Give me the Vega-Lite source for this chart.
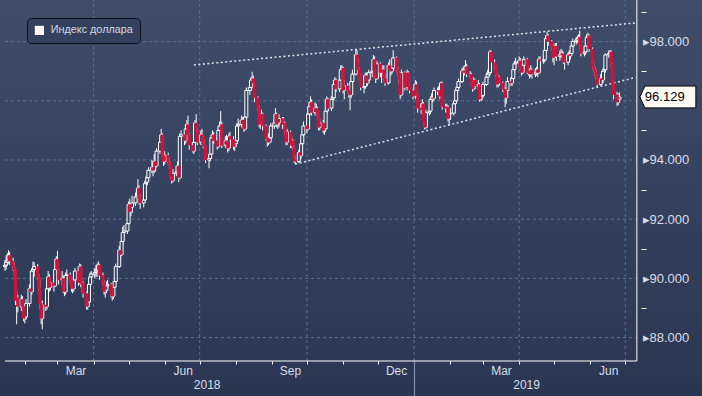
{
"$schema":"https://vega.github.io/schema/vega-lite/v6.json",
"width":702,"height":396,
"padding":0,
"autosize":{"type":"none"},
"background":"#2f3c58",
"config":{"view":{"stroke":null,"fill":{"gradient":"linear","x1":0,"y1":0,"x2":0,"y2":1,"stops":[{"offset":0,"color":"#3f4d6b"},{"offset":1,"color":"#2a3652"}]}},"axis":{"labelFont":"Liberation Sans","titleFont":"Liberation Sans"}},
"datasets":{
"last":[{"v":96.129}],
"gy":[{"v":88},{"v":90},{"v":92},{"v":94},{"v":96},{"v":98}],
"gx":[{"d":"2018-04-01"},{"d":"2018-07-01"},{"d":"2018-10-01"},{"d":"2019-01-01"},{"d":"2019-04-01"},{"d":"2019-07-01"}],
"tl":[{"g":"u","d":"2018-06-26","v":97.21},{"g":"u","d":"2019-07-10","v":98.63},{"g":"l","d":"2018-09-21","v":93.86},{"g":"l","d":"2019-07-10","v":96.79}],
"px":[
{"d":"2018-01-15","o":90.40,"h":90.62,"l":90.25,"c":90.45},
{"d":"2018-01-16","o":90.45,"h":90.78,"l":90.30,"c":90.55},
{"d":"2018-01-17","o":90.55,"h":90.85,"l":90.42,"c":90.62},
{"d":"2018-01-18","o":90.62,"h":90.95,"l":90.50,"c":90.78},
{"d":"2018-01-19","o":90.78,"h":90.90,"l":90.45,"c":90.58},
{"d":"2018-01-22","o":90.58,"h":90.70,"l":90.25,"c":90.40},
{"d":"2018-01-23","o":90.40,"h":90.55,"l":90.10,"c":90.28},
{"d":"2018-01-24","o":90.28,"h":90.35,"l":89.10,"c":89.25},
{"d":"2018-01-25","o":89.25,"h":89.60,"l":88.45,"c":89.35},
{"d":"2018-01-26","o":89.35,"h":89.45,"l":88.85,"c":89.05},
{"d":"2018-01-29","o":89.05,"h":89.45,"l":88.90,"c":89.30},
{"d":"2018-01-30","o":89.30,"h":89.40,"l":88.85,"c":89.05},
{"d":"2018-01-31","o":89.05,"h":89.20,"l":88.55,"c":88.65},
{"d":"2018-02-01","o":88.65,"h":88.95,"l":88.48,"c":88.70},
{"d":"2018-02-02","o":88.70,"h":89.30,"l":88.60,"c":89.15},
{"d":"2018-02-05","o":89.15,"h":89.80,"l":89.05,"c":89.65},
{"d":"2018-02-06","o":89.65,"h":89.90,"l":89.30,"c":89.55},
{"d":"2018-02-07","o":89.55,"h":90.35,"l":89.45,"c":90.25},
{"d":"2018-02-08","o":90.25,"h":90.57,"l":90.05,"c":90.30},
{"d":"2018-02-09","o":90.30,"h":90.55,"l":90.05,"c":90.40},
{"d":"2018-02-12","o":90.40,"h":90.48,"l":89.95,"c":90.05},
{"d":"2018-02-13","o":90.05,"h":90.15,"l":89.55,"c":89.70},
{"d":"2018-02-14","o":89.70,"h":89.95,"l":88.95,"c":89.15},
{"d":"2018-02-15","o":89.15,"h":89.25,"l":88.45,"c":88.65},
{"d":"2018-02-16","o":88.65,"h":89.25,"l":88.28,"c":89.10},
{"d":"2018-02-19","o":89.10,"h":89.35,"l":88.90,"c":89.05},
{"d":"2018-02-20","o":89.05,"h":89.80,"l":88.95,"c":89.65},
{"d":"2018-02-21","o":89.65,"h":90.25,"l":89.50,"c":90.05},
{"d":"2018-02-22","o":90.05,"h":90.15,"l":89.55,"c":89.70},
{"d":"2018-02-23","o":89.70,"h":90.05,"l":89.60,"c":89.85},
{"d":"2018-02-26","o":89.85,"h":89.95,"l":89.55,"c":89.75},
{"d":"2018-02-27","o":89.75,"h":90.45,"l":89.70,"c":90.30},
{"d":"2018-02-28","o":90.30,"h":90.75,"l":90.20,"c":90.65},
{"d":"2018-03-01","o":90.65,"h":90.93,"l":90.15,"c":90.30},
{"d":"2018-03-02","o":90.30,"h":90.35,"l":89.80,"c":89.95},
{"d":"2018-03-05","o":89.95,"h":90.25,"l":89.75,"c":90.00},
{"d":"2018-03-06","o":90.00,"h":90.10,"l":89.50,"c":89.60},
{"d":"2018-03-07","o":89.60,"h":89.75,"l":89.40,"c":89.55},
{"d":"2018-03-08","o":89.55,"h":90.20,"l":89.45,"c":90.10},
{"d":"2018-03-09","o":90.10,"h":90.30,"l":89.95,"c":90.12},
{"d":"2018-03-12","o":90.12,"h":90.20,"l":89.85,"c":89.95},
{"d":"2018-03-13","o":89.95,"h":90.05,"l":89.55,"c":89.70},
{"d":"2018-03-14","o":89.70,"h":89.85,"l":89.50,"c":89.65},
{"d":"2018-03-15","o":89.65,"h":90.10,"l":89.55,"c":89.95},
{"d":"2018-03-16","o":89.95,"h":90.35,"l":89.85,"c":90.25},
{"d":"2018-03-19","o":90.25,"h":90.30,"l":89.75,"c":89.85},
{"d":"2018-03-20","o":89.85,"h":90.50,"l":89.80,"c":90.40},
{"d":"2018-03-21","o":90.40,"h":90.48,"l":89.70,"c":89.85},
{"d":"2018-03-22","o":89.85,"h":90.00,"l":89.55,"c":89.80},
{"d":"2018-03-23","o":89.80,"h":89.90,"l":89.35,"c":89.50},
{"d":"2018-03-26","o":89.50,"h":89.55,"l":88.95,"c":89.05},
{"d":"2018-03-27","o":89.05,"h":89.40,"l":88.94,"c":89.20},
{"d":"2018-03-28","o":89.20,"h":89.95,"l":89.10,"c":89.80},
{"d":"2018-03-29","o":89.80,"h":90.20,"l":89.70,"c":90.05},
{"d":"2018-03-30","o":90.05,"h":90.25,"l":89.95,"c":90.15},
{"d":"2018-04-02","o":90.15,"h":90.35,"l":90.00,"c":90.20},
{"d":"2018-04-03","o":90.20,"h":90.45,"l":90.05,"c":90.25},
{"d":"2018-04-04","o":90.25,"h":90.50,"l":90.05,"c":90.28},
{"d":"2018-04-05","o":90.28,"h":90.58,"l":90.15,"c":90.45},
{"d":"2018-04-06","o":90.45,"h":90.50,"l":89.95,"c":90.10},
{"d":"2018-04-09","o":90.10,"h":90.20,"l":89.75,"c":89.85},
{"d":"2018-04-10","o":89.85,"h":89.95,"l":89.45,"c":89.55},
{"d":"2018-04-11","o":89.55,"h":89.75,"l":89.35,"c":89.60},
{"d":"2018-04-12","o":89.60,"h":89.90,"l":89.50,"c":89.75},
{"d":"2018-04-13","o":89.75,"h":89.95,"l":89.60,"c":89.80},
{"d":"2018-04-16","o":89.80,"h":89.85,"l":89.35,"c":89.45},
{"d":"2018-04-17","o":89.45,"h":89.60,"l":89.25,"c":89.40},
{"d":"2018-04-18","o":89.40,"h":89.85,"l":89.30,"c":89.70},
{"d":"2018-04-19","o":89.70,"h":90.05,"l":89.60,"c":89.90},
{"d":"2018-04-20","o":89.90,"h":90.50,"l":89.80,"c":90.40},
{"d":"2018-04-23","o":90.40,"h":91.10,"l":90.35,"c":90.95},
{"d":"2018-04-24","o":90.95,"h":91.05,"l":90.60,"c":90.80},
{"d":"2018-04-25","o":90.80,"h":91.40,"l":90.75,"c":91.25},
{"d":"2018-04-26","o":91.25,"h":91.75,"l":91.10,"c":91.55},
{"d":"2018-04-27","o":91.55,"h":91.80,"l":91.35,"c":91.60},
{"d":"2018-04-30","o":91.60,"h":92.05,"l":91.50,"c":91.85},
{"d":"2018-05-01","o":91.85,"h":92.60,"l":91.80,"c":92.50},
{"d":"2018-05-02","o":92.50,"h":92.70,"l":92.10,"c":92.25},
{"d":"2018-05-03","o":92.25,"h":92.55,"l":92.10,"c":92.40},
{"d":"2018-05-04","o":92.40,"h":92.80,"l":92.20,"c":92.55},
{"d":"2018-05-07","o":92.55,"h":92.90,"l":92.45,"c":92.75},
{"d":"2018-05-08","o":92.75,"h":93.05,"l":92.60,"c":92.80},
{"d":"2018-05-09","o":92.80,"h":93.35,"l":92.70,"c":93.05},
{"d":"2018-05-10","o":93.05,"h":93.15,"l":92.50,"c":92.70},
{"d":"2018-05-11","o":92.70,"h":92.85,"l":92.35,"c":92.55},
{"d":"2018-05-14","o":92.55,"h":92.85,"l":92.40,"c":92.65},
{"d":"2018-05-15","o":92.65,"h":93.30,"l":92.60,"c":93.20},
{"d":"2018-05-16","o":93.20,"h":93.45,"l":93.05,"c":93.25},
{"d":"2018-05-17","o":93.25,"h":93.55,"l":93.15,"c":93.40},
{"d":"2018-05-18","o":93.40,"h":93.75,"l":93.30,"c":93.65},
{"d":"2018-05-21","o":93.65,"h":94.00,"l":93.55,"c":93.75},
{"d":"2018-05-22","o":93.75,"h":93.90,"l":93.45,"c":93.65},
{"d":"2018-05-23","o":93.65,"h":94.20,"l":93.55,"c":93.95},
{"d":"2018-05-24","o":93.95,"h":94.05,"l":93.60,"c":93.80},
{"d":"2018-05-25","o":93.80,"h":94.40,"l":93.75,"c":94.30},
{"d":"2018-05-28","o":94.30,"h":94.75,"l":94.20,"c":94.60},
{"d":"2018-05-29","o":94.60,"h":95.05,"l":94.50,"c":94.85},
{"d":"2018-05-30","o":94.85,"h":94.90,"l":94.05,"c":94.15},
{"d":"2018-05-31","o":94.15,"h":94.25,"l":93.80,"c":93.95},
{"d":"2018-06-01","o":93.95,"h":94.30,"l":93.85,"c":94.15},
{"d":"2018-06-04","o":94.15,"h":94.25,"l":93.85,"c":93.95},
{"d":"2018-06-05","o":93.95,"h":94.10,"l":93.70,"c":93.85},
{"d":"2018-06-06","o":93.85,"h":93.95,"l":93.35,"c":93.45},
{"d":"2018-06-07","o":93.45,"h":93.55,"l":93.20,"c":93.30},
{"d":"2018-06-08","o":93.30,"h":93.70,"l":93.25,"c":93.55},
{"d":"2018-06-11","o":93.55,"h":93.80,"l":93.45,"c":93.60},
{"d":"2018-06-12","o":93.60,"h":93.95,"l":93.50,"c":93.80},
{"d":"2018-06-13","o":93.80,"h":93.90,"l":93.25,"c":93.40},
{"d":"2018-06-14","o":93.40,"h":94.90,"l":93.35,"c":94.80},
{"d":"2018-06-15","o":94.80,"h":95.00,"l":94.55,"c":94.85},
{"d":"2018-06-18","o":94.85,"h":94.95,"l":94.50,"c":94.65},
{"d":"2018-06-19","o":94.65,"h":95.20,"l":94.55,"c":95.05},
{"d":"2018-06-20","o":95.05,"h":95.35,"l":94.90,"c":95.20},
{"d":"2018-06-21","o":95.20,"h":95.50,"l":94.75,"c":94.85},
{"d":"2018-06-22","o":94.85,"h":94.95,"l":94.35,"c":94.50},
{"d":"2018-06-25","o":94.50,"h":94.60,"l":94.25,"c":94.30},
{"d":"2018-06-26","o":94.30,"h":94.75,"l":94.20,"c":94.60},
{"d":"2018-06-27","o":94.60,"h":95.35,"l":94.55,"c":95.25},
{"d":"2018-06-28","o":95.25,"h":95.55,"l":94.90,"c":95.00},
{"d":"2018-06-29","o":95.00,"h":95.10,"l":94.50,"c":94.60},
{"d":"2018-07-02","o":94.60,"h":95.00,"l":94.50,"c":94.85},
{"d":"2018-07-03","o":94.85,"h":95.05,"l":94.60,"c":94.80},
{"d":"2018-07-04","o":94.80,"h":94.85,"l":94.40,"c":94.55},
{"d":"2018-07-05","o":94.55,"h":94.70,"l":94.30,"c":94.45},
{"d":"2018-07-06","o":94.45,"h":94.50,"l":93.90,"c":94.00},
{"d":"2018-07-09","o":94.00,"h":94.20,"l":93.72,"c":94.05},
{"d":"2018-07-10","o":94.05,"h":94.35,"l":93.95,"c":94.20},
{"d":"2018-07-11","o":94.20,"h":94.85,"l":94.15,"c":94.75},
{"d":"2018-07-12","o":94.75,"h":95.00,"l":94.60,"c":94.85},
{"d":"2018-07-13","o":94.85,"h":94.95,"l":94.55,"c":94.65},
{"d":"2018-07-16","o":94.65,"h":94.75,"l":94.35,"c":94.45},
{"d":"2018-07-17","o":94.45,"h":95.10,"l":94.40,"c":95.00},
{"d":"2018-07-18","o":95.00,"h":95.30,"l":94.90,"c":95.15},
{"d":"2018-07-19","o":95.15,"h":95.65,"l":95.00,"c":95.20},
{"d":"2018-07-20","o":95.20,"h":95.30,"l":94.40,"c":94.50},
{"d":"2018-07-23","o":94.50,"h":94.80,"l":94.40,"c":94.65},
{"d":"2018-07-24","o":94.65,"h":94.85,"l":94.40,"c":94.60},
{"d":"2018-07-25","o":94.60,"h":94.75,"l":94.25,"c":94.40},
{"d":"2018-07-26","o":94.40,"h":94.90,"l":94.30,"c":94.80},
{"d":"2018-07-27","o":94.80,"h":94.95,"l":94.55,"c":94.70},
{"d":"2018-07-30","o":94.70,"h":94.80,"l":94.35,"c":94.45},
{"d":"2018-07-31","o":94.45,"h":94.70,"l":94.30,"c":94.55},
{"d":"2018-08-01","o":94.55,"h":94.85,"l":94.45,"c":94.65},
{"d":"2018-08-02","o":94.65,"h":95.25,"l":94.60,"c":95.15},
{"d":"2018-08-03","o":95.15,"h":95.40,"l":95.05,"c":95.20},
{"d":"2018-08-06","o":95.20,"h":95.50,"l":95.10,"c":95.35},
{"d":"2018-08-07","o":95.35,"h":95.45,"l":95.05,"c":95.25},
{"d":"2018-08-08","o":95.25,"h":95.35,"l":94.95,"c":95.05},
{"d":"2018-08-09","o":95.05,"h":95.55,"l":95.00,"c":95.45},
{"d":"2018-08-10","o":95.45,"h":96.45,"l":95.40,"c":96.35},
{"d":"2018-08-13","o":96.35,"h":96.60,"l":96.20,"c":96.45},
{"d":"2018-08-14","o":96.45,"h":96.80,"l":96.35,"c":96.70},
{"d":"2018-08-15","o":96.70,"h":96.98,"l":96.45,"c":96.75},
{"d":"2018-08-16","o":96.75,"h":96.85,"l":96.40,"c":96.60},
{"d":"2018-08-17","o":96.60,"h":96.65,"l":95.95,"c":96.10},
{"d":"2018-08-20","o":96.10,"h":96.15,"l":95.65,"c":95.75},
{"d":"2018-08-21","o":95.75,"h":95.85,"l":95.10,"c":95.20},
{"d":"2018-08-22","o":95.20,"h":95.40,"l":95.05,"c":95.22},
{"d":"2018-08-23","o":95.22,"h":95.70,"l":95.15,"c":95.55},
{"d":"2018-08-24","o":95.55,"h":95.60,"l":95.00,"c":95.15},
{"d":"2018-08-27","o":95.15,"h":95.20,"l":94.65,"c":94.75},
{"d":"2018-08-28","o":94.75,"h":94.85,"l":94.45,"c":94.70},
{"d":"2018-08-29","o":94.70,"h":94.90,"l":94.50,"c":94.60},
{"d":"2018-08-30","o":94.60,"h":94.95,"l":94.55,"c":94.75},
{"d":"2018-08-31","o":94.75,"h":95.25,"l":94.70,"c":95.15},
{"d":"2018-09-03","o":95.15,"h":95.40,"l":95.05,"c":95.25},
{"d":"2018-09-04","o":95.25,"h":95.75,"l":95.15,"c":95.55},
{"d":"2018-09-05","o":95.55,"h":95.60,"l":95.10,"c":95.20},
{"d":"2018-09-06","o":95.20,"h":95.45,"l":95.05,"c":95.25},
{"d":"2018-09-07","o":95.25,"h":95.55,"l":95.10,"c":95.40},
{"d":"2018-09-10","o":95.40,"h":95.45,"l":95.05,"c":95.20},
{"d":"2018-09-11","o":95.20,"h":95.45,"l":95.05,"c":95.25},
{"d":"2018-09-12","o":95.25,"h":95.30,"l":94.85,"c":94.95},
{"d":"2018-09-13","o":94.95,"h":95.05,"l":94.50,"c":94.60},
{"d":"2018-09-14","o":94.60,"h":95.05,"l":94.50,"c":94.95},
{"d":"2018-09-17","o":94.95,"h":95.00,"l":94.40,"c":94.50},
{"d":"2018-09-18","o":94.50,"h":94.80,"l":94.40,"c":94.65},
{"d":"2018-09-19","o":94.65,"h":94.70,"l":94.35,"c":94.45},
{"d":"2018-09-20","o":94.45,"h":94.50,"l":93.90,"c":94.00},
{"d":"2018-09-21","o":94.00,"h":94.15,"l":93.85,"c":93.95},
{"d":"2018-09-24","o":93.95,"h":94.35,"l":93.90,"c":94.25},
{"d":"2018-09-25","o":94.25,"h":94.35,"l":94.00,"c":94.15},
{"d":"2018-09-26","o":94.15,"h":94.65,"l":94.05,"c":94.55},
{"d":"2018-09-27","o":94.55,"h":95.00,"l":94.45,"c":94.85},
{"d":"2018-09-28","o":94.85,"h":95.30,"l":94.75,"c":95.15},
{"d":"2018-10-01","o":95.15,"h":95.30,"l":94.90,"c":95.05},
{"d":"2018-10-02","o":95.05,"h":95.65,"l":95.00,"c":95.55},
{"d":"2018-10-03","o":95.55,"h":95.95,"l":95.45,"c":95.80},
{"d":"2018-10-04","o":95.80,"h":96.15,"l":95.70,"c":95.95},
{"d":"2018-10-05","o":95.95,"h":96.05,"l":95.50,"c":95.60},
{"d":"2018-10-08","o":95.60,"h":95.95,"l":95.50,"c":95.75},
{"d":"2018-10-09","o":95.75,"h":95.90,"l":95.55,"c":95.70},
{"d":"2018-10-10","o":95.70,"h":95.80,"l":95.35,"c":95.55},
{"d":"2018-10-11","o":95.55,"h":95.65,"l":95.00,"c":95.10},
{"d":"2018-10-12","o":95.10,"h":95.40,"l":95.00,"c":95.25},
{"d":"2018-10-15","o":95.25,"h":95.35,"l":94.90,"c":95.00},
{"d":"2018-10-16","o":95.00,"h":95.20,"l":94.85,"c":95.05},
{"d":"2018-10-17","o":95.05,"h":95.75,"l":94.95,"c":95.65},
{"d":"2018-10-18","o":95.65,"h":96.15,"l":95.55,"c":96.05},
{"d":"2018-10-19","o":96.05,"h":96.10,"l":95.65,"c":95.75},
{"d":"2018-10-22","o":95.75,"h":96.15,"l":95.65,"c":96.05},
{"d":"2018-10-23","o":96.05,"h":96.25,"l":95.90,"c":96.10},
{"d":"2018-10-24","o":96.10,"h":96.65,"l":96.00,"c":96.55},
{"d":"2018-10-25","o":96.55,"h":96.80,"l":96.45,"c":96.70},
{"d":"2018-10-26","o":96.70,"h":96.75,"l":96.30,"c":96.40},
{"d":"2018-10-29","o":96.40,"h":96.85,"l":96.30,"c":96.70},
{"d":"2018-10-30","o":96.70,"h":97.20,"l":96.60,"c":97.05},
{"d":"2018-10-31","o":97.05,"h":97.20,"l":96.90,"c":97.10},
{"d":"2018-11-01","o":97.10,"h":97.15,"l":96.25,"c":96.35},
{"d":"2018-11-02","o":96.35,"h":96.70,"l":96.05,"c":96.50},
{"d":"2018-11-05","o":96.50,"h":96.60,"l":96.25,"c":96.35},
{"d":"2018-11-06","o":96.35,"h":96.50,"l":96.10,"c":96.25},
{"d":"2018-11-07","o":96.25,"h":96.45,"l":95.68,"c":96.20},
{"d":"2018-11-08","o":96.20,"h":96.80,"l":96.10,"c":96.65},
{"d":"2018-11-09","o":96.65,"h":97.05,"l":96.55,"c":96.90},
{"d":"2018-11-12","o":96.90,"h":97.75,"l":96.85,"c":97.55},
{"d":"2018-11-13","o":97.55,"h":97.70,"l":97.15,"c":97.30},
{"d":"2018-11-14","o":97.30,"h":97.40,"l":96.90,"c":97.05},
{"d":"2018-11-15","o":97.05,"h":97.15,"l":96.65,"c":96.80},
{"d":"2018-11-16","o":96.80,"h":96.90,"l":96.35,"c":96.45},
{"d":"2018-11-19","o":96.45,"h":96.60,"l":96.25,"c":96.48},
{"d":"2018-11-20","o":96.48,"h":96.95,"l":96.40,"c":96.85},
{"d":"2018-11-21","o":96.85,"h":96.95,"l":96.50,"c":96.60},
{"d":"2018-11-22","o":96.60,"h":96.80,"l":96.50,"c":96.70},
{"d":"2018-11-23","o":96.70,"h":97.05,"l":96.60,"c":96.95},
{"d":"2018-11-26","o":96.95,"h":97.15,"l":96.80,"c":97.00},
{"d":"2018-11-27","o":97.00,"h":97.55,"l":96.90,"c":97.40},
{"d":"2018-11-28","o":97.40,"h":97.50,"l":96.75,"c":96.85},
{"d":"2018-11-29","o":96.85,"h":96.95,"l":96.60,"c":96.75},
{"d":"2018-11-30","o":96.75,"h":97.35,"l":96.70,"c":97.25},
{"d":"2018-12-03","o":97.25,"h":97.30,"l":96.80,"c":96.95},
{"d":"2018-12-04","o":96.95,"h":97.15,"l":96.60,"c":96.98},
{"d":"2018-12-05","o":96.98,"h":97.20,"l":96.85,"c":97.05},
{"d":"2018-12-06","o":97.05,"h":97.20,"l":96.65,"c":96.75},
{"d":"2018-12-07","o":96.75,"h":96.90,"l":96.50,"c":96.60},
{"d":"2018-12-10","o":96.60,"h":97.30,"l":96.55,"c":97.20},
{"d":"2018-12-11","o":97.20,"h":97.40,"l":96.95,"c":97.05},
{"d":"2018-12-12","o":97.05,"h":97.20,"l":96.85,"c":97.00},
{"d":"2018-12-13","o":97.00,"h":97.25,"l":96.90,"c":97.10},
{"d":"2018-12-14","o":97.10,"h":97.71,"l":97.05,"c":97.45},
{"d":"2018-12-17","o":97.45,"h":97.50,"l":96.95,"c":97.05},
{"d":"2018-12-18","o":97.05,"h":97.15,"l":96.80,"c":96.95},
{"d":"2018-12-19","o":96.95,"h":97.00,"l":96.55,"c":96.70},
{"d":"2018-12-20","o":96.70,"h":96.75,"l":96.05,"c":96.20},
{"d":"2018-12-21","o":96.20,"h":97.05,"l":96.15,"c":96.95},
{"d":"2018-12-24","o":96.95,"h":97.00,"l":96.35,"c":96.45},
{"d":"2018-12-26","o":96.45,"h":97.05,"l":96.35,"c":96.95},
{"d":"2018-12-27","o":96.95,"h":97.00,"l":96.40,"c":96.50},
{"d":"2018-12-28","o":96.50,"h":96.60,"l":96.25,"c":96.35},
{"d":"2018-12-31","o":96.35,"h":96.40,"l":96.05,"c":96.15},
{"d":"2019-01-02","o":96.15,"h":96.70,"l":96.05,"c":96.55},
{"d":"2019-01-03","o":96.55,"h":96.65,"l":96.10,"c":96.20},
{"d":"2019-01-04","o":96.20,"h":96.30,"l":95.60,"c":95.75},
{"d":"2019-01-07","o":95.75,"h":95.90,"l":95.55,"c":95.70},
{"d":"2019-01-08","o":95.70,"h":96.05,"l":95.65,"c":95.90},
{"d":"2019-01-09","o":95.90,"h":95.95,"l":95.15,"c":95.25},
{"d":"2019-01-10","o":95.25,"h":95.40,"l":95.03,"c":95.10},
{"d":"2019-01-11","o":95.10,"h":95.70,"l":95.05,"c":95.60},
{"d":"2019-01-14","o":95.60,"h":95.80,"l":95.50,"c":95.65},
{"d":"2019-01-15","o":95.65,"h":96.15,"l":95.55,"c":96.05},
{"d":"2019-01-16","o":96.05,"h":96.25,"l":95.95,"c":96.10},
{"d":"2019-01-17","o":96.10,"h":96.30,"l":95.95,"c":96.08},
{"d":"2019-01-18","o":96.08,"h":96.45,"l":96.00,"c":96.35},
{"d":"2019-01-21","o":96.35,"h":96.45,"l":96.20,"c":96.32},
{"d":"2019-01-22","o":96.32,"h":96.50,"l":96.15,"c":96.35},
{"d":"2019-01-23","o":96.35,"h":96.45,"l":96.05,"c":96.15},
{"d":"2019-01-24","o":96.15,"h":96.65,"l":96.10,"c":96.60},
{"d":"2019-01-25","o":96.60,"h":96.65,"l":95.70,"c":95.80},
{"d":"2019-01-28","o":95.80,"h":95.90,"l":95.60,"c":95.75},
{"d":"2019-01-29","o":95.75,"h":95.90,"l":95.60,"c":95.78},
{"d":"2019-01-30","o":95.78,"h":95.85,"l":95.30,"c":95.40},
{"d":"2019-01-31","o":95.40,"h":95.65,"l":95.17,"c":95.55},
{"d":"2019-02-01","o":95.55,"h":95.75,"l":95.35,"c":95.58},
{"d":"2019-02-04","o":95.58,"h":96.00,"l":95.50,"c":95.90},
{"d":"2019-02-05","o":95.90,"h":96.15,"l":95.80,"c":96.00},
{"d":"2019-02-06","o":96.00,"h":96.45,"l":95.95,"c":96.35},
{"d":"2019-02-07","o":96.35,"h":96.60,"l":96.25,"c":96.45},
{"d":"2019-02-08","o":96.45,"h":96.75,"l":96.35,"c":96.65},
{"d":"2019-02-11","o":96.65,"h":97.10,"l":96.60,"c":97.00},
{"d":"2019-02-12","o":97.00,"h":97.15,"l":96.85,"c":96.95},
{"d":"2019-02-13","o":96.95,"h":97.20,"l":96.85,"c":97.05},
{"d":"2019-02-14","o":97.05,"h":97.37,"l":96.95,"c":97.15},
{"d":"2019-02-15","o":97.15,"h":97.25,"l":96.80,"c":96.90},
{"d":"2019-02-18","o":96.90,"h":97.00,"l":96.75,"c":96.88},
{"d":"2019-02-19","o":96.88,"h":96.95,"l":96.50,"c":96.60},
{"d":"2019-02-20","o":96.60,"h":96.65,"l":96.30,"c":96.40},
{"d":"2019-02-21","o":96.40,"h":96.80,"l":96.35,"c":96.70},
{"d":"2019-02-22","o":96.70,"h":96.75,"l":96.40,"c":96.50},
{"d":"2019-02-25","o":96.50,"h":96.70,"l":96.35,"c":96.55},
{"d":"2019-02-26","o":96.55,"h":96.60,"l":95.97,"c":96.05},
{"d":"2019-02-27","o":96.05,"h":96.30,"l":96.00,"c":96.15},
{"d":"2019-02-28","o":96.15,"h":96.35,"l":96.00,"c":96.18},
{"d":"2019-03-01","o":96.18,"h":96.65,"l":96.10,"c":96.55},
{"d":"2019-03-04","o":96.55,"h":96.95,"l":96.50,"c":96.80},
{"d":"2019-03-05","o":96.80,"h":97.05,"l":96.70,"c":96.90},
{"d":"2019-03-06","o":96.90,"h":97.10,"l":96.80,"c":96.95},
{"d":"2019-03-07","o":96.95,"h":97.72,"l":96.85,"c":97.65},
{"d":"2019-03-08","o":97.65,"h":97.70,"l":97.15,"c":97.30},
{"d":"2019-03-11","o":97.30,"h":97.40,"l":97.05,"c":97.20},
{"d":"2019-03-12","o":97.20,"h":97.25,"l":96.80,"c":96.90},
{"d":"2019-03-13","o":96.90,"h":96.95,"l":96.45,"c":96.55},
{"d":"2019-03-14","o":96.55,"h":96.90,"l":96.45,"c":96.80},
{"d":"2019-03-15","o":96.80,"h":96.85,"l":96.50,"c":96.60},
{"d":"2019-03-18","o":96.60,"h":96.65,"l":96.30,"c":96.40},
{"d":"2019-03-19","o":96.40,"h":96.55,"l":96.25,"c":96.38},
{"d":"2019-03-20","o":96.38,"h":96.45,"l":95.78,"c":96.10},
{"d":"2019-03-21","o":96.10,"h":96.45,"l":95.90,"c":96.35},
{"d":"2019-03-22","o":96.35,"h":96.80,"l":96.25,"c":96.65},
{"d":"2019-03-25","o":96.65,"h":96.80,"l":96.50,"c":96.60},
{"d":"2019-03-26","o":96.60,"h":96.85,"l":96.50,"c":96.75},
{"d":"2019-03-27","o":96.75,"h":97.15,"l":96.65,"c":97.05},
{"d":"2019-03-28","o":97.05,"h":97.35,"l":96.95,"c":97.25},
{"d":"2019-03-29","o":97.25,"h":97.45,"l":97.10,"c":97.30},
{"d":"2019-04-01","o":97.30,"h":97.50,"l":97.15,"c":97.35},
{"d":"2019-04-02","o":97.35,"h":97.45,"l":97.00,"c":97.10},
{"d":"2019-04-03","o":97.10,"h":97.20,"l":96.85,"c":96.95},
{"d":"2019-04-04","o":96.95,"h":97.30,"l":96.90,"c":97.20},
{"d":"2019-04-05","o":97.20,"h":97.50,"l":97.10,"c":97.40},
{"d":"2019-04-08","o":97.40,"h":97.45,"l":96.90,"c":97.00},
{"d":"2019-04-09","o":97.00,"h":97.15,"l":96.85,"c":96.95},
{"d":"2019-04-10","o":96.95,"h":97.10,"l":96.75,"c":96.90},
{"d":"2019-04-11","o":96.90,"h":97.20,"l":96.80,"c":97.05},
{"d":"2019-04-12","o":97.05,"h":97.10,"l":96.75,"c":96.90},
{"d":"2019-04-15","o":96.90,"h":97.10,"l":96.80,"c":96.95},
{"d":"2019-04-16","o":96.95,"h":97.15,"l":96.85,"c":97.05},
{"d":"2019-04-17","o":97.05,"h":97.15,"l":96.80,"c":96.95},
{"d":"2019-04-18","o":96.95,"h":97.50,"l":96.90,"c":97.40},
{"d":"2019-04-19","o":97.40,"h":97.50,"l":97.25,"c":97.35},
{"d":"2019-04-22","o":97.35,"h":97.50,"l":97.25,"c":97.38},
{"d":"2019-04-23","o":97.38,"h":97.80,"l":97.30,"c":97.70},
{"d":"2019-04-24","o":97.70,"h":98.20,"l":97.65,"c":98.10},
{"d":"2019-04-25","o":98.10,"h":98.33,"l":98.00,"c":98.20},
{"d":"2019-04-26","o":98.20,"h":98.25,"l":97.85,"c":98.00},
{"d":"2019-04-29","o":98.00,"h":98.05,"l":97.70,"c":97.85},
{"d":"2019-04-30","o":97.85,"h":97.95,"l":97.30,"c":97.45},
{"d":"2019-05-01","o":97.45,"h":97.85,"l":97.20,"c":97.75},
{"d":"2019-05-02","o":97.75,"h":97.95,"l":97.65,"c":97.85},
{"d":"2019-05-03","o":97.85,"h":97.95,"l":97.35,"c":97.50},
{"d":"2019-05-06","o":97.50,"h":97.70,"l":97.35,"c":97.55},
{"d":"2019-05-07","o":97.55,"h":97.75,"l":97.45,"c":97.60},
{"d":"2019-05-08","o":97.60,"h":97.70,"l":97.40,"c":97.55},
{"d":"2019-05-09","o":97.55,"h":97.65,"l":97.25,"c":97.35},
{"d":"2019-05-10","o":97.35,"h":97.45,"l":97.05,"c":97.30},
{"d":"2019-05-13","o":97.30,"h":97.65,"l":97.20,"c":97.55},
{"d":"2019-05-14","o":97.55,"h":97.70,"l":97.40,"c":97.52},
{"d":"2019-05-15","o":97.52,"h":97.75,"l":97.40,"c":97.60},
{"d":"2019-05-16","o":97.60,"h":97.95,"l":97.55,"c":97.85},
{"d":"2019-05-17","o":97.85,"h":98.10,"l":97.80,"c":98.00},
{"d":"2019-05-20","o":98.00,"h":98.15,"l":97.90,"c":98.05},
{"d":"2019-05-21","o":98.05,"h":98.20,"l":97.95,"c":98.10},
{"d":"2019-05-22","o":98.10,"h":98.25,"l":97.95,"c":98.15},
{"d":"2019-05-23","o":98.15,"h":98.37,"l":97.75,"c":97.85},
{"d":"2019-05-24","o":97.85,"h":97.90,"l":97.50,"c":97.60},
{"d":"2019-05-27","o":97.60,"h":97.75,"l":97.50,"c":97.65},
{"d":"2019-05-28","o":97.65,"h":97.95,"l":97.55,"c":97.85},
{"d":"2019-05-29","o":97.85,"h":98.25,"l":97.80,"c":98.15},
{"d":"2019-05-30","o":98.15,"h":98.30,"l":98.05,"c":98.20},
{"d":"2019-05-31","o":98.20,"h":98.25,"l":97.65,"c":97.75},
{"d":"2019-06-03","o":97.75,"h":97.80,"l":97.05,"c":97.15},
{"d":"2019-06-04","o":97.15,"h":97.30,"l":96.95,"c":97.05},
{"d":"2019-06-05","o":97.05,"h":97.15,"l":96.80,"c":96.95},
{"d":"2019-06-06","o":96.95,"h":97.05,"l":96.70,"c":96.80},
{"d":"2019-06-07","o":96.80,"h":96.90,"l":96.46,"c":96.55},
{"d":"2019-06-10","o":96.55,"h":96.90,"l":96.50,"c":96.75},
{"d":"2019-06-11","o":96.75,"h":96.85,"l":96.60,"c":96.70},
{"d":"2019-06-12","o":96.70,"h":97.10,"l":96.60,"c":97.00},
{"d":"2019-06-13","o":97.00,"h":97.20,"l":96.90,"c":97.05},
{"d":"2019-06-14","o":97.05,"h":97.60,"l":96.95,"c":97.55},
{"d":"2019-06-17","o":97.55,"h":97.70,"l":97.45,"c":97.60},
{"d":"2019-06-18","o":97.60,"h":97.72,"l":97.45,"c":97.65},
{"d":"2019-06-19","o":97.65,"h":97.70,"l":97.15,"c":97.25},
{"d":"2019-06-20","o":97.25,"h":97.30,"l":96.50,"c":96.60},
{"d":"2019-06-21","o":96.60,"h":96.65,"l":96.05,"c":96.20},
{"d":"2019-06-24","o":96.20,"h":96.30,"l":95.82,"c":95.95},
{"d":"2019-06-25","o":95.95,"h":96.25,"l":95.85,"c":96.05},
{"d":"2019-06-26","o":96.05,"h":96.28,"l":95.98,"c":96.129}
]},
"layer":[
{"data":{"name":"gy"},"mark":{"type":"rule","color":"#5e7190","strokeWidth":1,"strokeDash":[3,3]},
 "encoding":{
  "y":{"field":"v","type":"quantitative","scale":{"domain":[86.028,99.404],"nice":false,"zero":false},"axis":null},
  "x":{"datum":{"year":2018,"month":1,"date":15,"utc":true},"type":"temporal","scale":{"type":"utc","nice":false,"domain":[{"year":2018,"month":1,"date":15,"utc":true},{"year":2019,"month":8,"date":31,"hours":14,"utc":true}]},"axis":null},
  "x2":{"datum":{"year":2019,"month":7,"date":11,"utc":true}}}},
{"data":{"name":"gx"},"mark":{"type":"rule","color":"#5e7190","strokeWidth":1,"strokeDash":[3,3]},
 "encoding":{
  "x":{"field":"d","type":"temporal","axis":null},
  "y":{"datum":87.21,"type":"quantitative","axis":null},
  "y2":{"datum":99.404}}},
{"data":{"values":[{}]},"mark":{"type":"rule","color":"#ffffff","strokeWidth":1},
 "encoding":{
  "x":{"datum":{"year":2018,"month":1,"date":15,"utc":true},"type":"temporal","axis":null},
  "x2":{"datum":{"year":2019,"month":7,"date":11,"utc":true}},
  "y":{"datum":87.21,"type":"quantitative","axis":null}}},
{"data":{"values":[{}]},"mark":{"type":"rule","color":"#ffffff","strokeWidth":1},
 "encoding":{
  "x":{"datum":{"year":2019,"month":7,"date":11,"utc":true},"type":"temporal","axis":null},
  "y":{"datum":87.21,"type":"quantitative","axis":null},
  "y2":{"datum":99.404}}},
{"data":{"name":"tl"},"mark":{"type":"line","color":"#dfe5ee","strokeWidth":1.5,"strokeDash":[2,2.5]},
 "encoding":{
  "x":{"field":"d","type":"temporal","axis":null},
  "y":{"field":"v","type":"quantitative","axis":null},
  "detail":{"field":"g"}}},
{"data":{"name":"px"},"mark":{"type":"rule","strokeWidth":1},
 "encoding":{
  "x":{"field":"d","type":"temporal",
   "axis":{"orient":"bottom","offset":-35,"values":[{"year":2018,"month":2,"date":1,"utc":true},{"year":2018,"month":3,"date":1,"utc":true},{"year":2018,"month":4,"date":1,"utc":true},{"year":2018,"month":5,"date":1,"utc":true},{"year":2018,"month":6,"date":1,"utc":true},{"year":2018,"month":7,"date":1,"utc":true},{"year":2018,"month":8,"date":1,"utc":true},{"year":2018,"month":9,"date":1,"utc":true},{"year":2018,"month":10,"date":1,"utc":true},{"year":2018,"month":11,"date":1,"utc":true},{"year":2018,"month":12,"date":1,"utc":true},{"year":2019,"month":1,"date":1,"utc":true},{"year":2019,"month":2,"date":1,"utc":true},{"year":2019,"month":3,"date":1,"utc":true},{"year":2019,"month":4,"date":1,"utc":true},{"year":2019,"month":5,"date":1,"utc":true},{"year":2019,"month":6,"date":1,"utc":true},{"year":2019,"month":7,"date":1,"utc":true}],
    "labelExpr":"indexof([2,5,8,11], utcmonth(datum.value)) >= 0 ? utcFormat(datum.value, '%b') : ''",
    "labelOffset":18,"tickSize":3,"tickColor":"#ffffff","domain":false,"labelPadding":1,"labelColor":"#d9dee6","labelFontSize":12,"labelFont":"Liberation Sans","grid":false,"title":null,"labelOverlap":false,"labelFlush":false,"labelBound":false}},
  "y":{"field":"l","type":"quantitative",
   "axis":{"orient":"right","offset":-61,"values":[88,90,92,94,98],"labelExpr":"'▸' + format(datum.value, '.3f')","ticks":false,"domain":false,"labelPadding":1,"labelColor":"#d9dee6","labelFontSize":13,"labelFont":"Liberation Sans","grid":false,"title":null,"labelFlush":false,"labelBound":false}},
  "y2":{"field":"h"},
  "color":{"datum":"Индекс доллара","scale":{"range":["#ffffff"]},
   "legend":{"title":null,"orient":"none","legendX":27,"legendY":18,"fillColor":"#33415e","strokeColor":"#0b0f18","cornerRadius":4,"padding":7,"symbolType":"square","symbolSize":85,"symbolFillColor":"#fff6f6","symbolStrokeColor":"#fff6f6","symbolStrokeWidth":0,"labelColor":"#d5dae3","labelFontSize":10.8,"labelFont":"Liberation Sans","labelOffset":6,
    "encode":{"symbols":{"update":{"fill":{"value":"#fff6f6"},"stroke":{"value":"#fff6f6"},"shape":{"value":"square"}}}}}}}},
{"data":{"name":"px"},"transform":[{"filter":"datum.c >= datum.o"}],
 "mark":{"type":"bar","size":3,"fill":"#35435f","stroke":"#ffffff","strokeWidth":1},
 "encoding":{
  "x":{"field":"d","type":"temporal",
   "axis":{"orient":"bottom","offset":-35,"values":[{"year":2018,"month":7,"date":7,"utc":true},{"year":2019,"month":4,"date":7,"utc":true}],"labelExpr":"utcFormat(datum.value, '%Y')","ticks":false,"domain":false,"grid":false,"labelPadding":18,"labelColor":"#d9dee6","labelFontSize":12,"labelFont":"Liberation Sans","title":null,"labelOverlap":false,"labelFlush":false}},
  "y":{"field":"o","type":"quantitative",
   "axis":{"orient":"right","offset":-61,"values":[89,91,93,95,97,99],"ticks":true,"tickSize":5,"tickColor":"#ffffff","labels":false,"domain":false,"grid":false,"title":null}},
  "y2":{"field":"c"}}},
{"data":{"name":"px"},"transform":[{"filter":"datum.c < datum.o"}],
 "mark":{"type":"bar","size":3,"fill":"#d0143c","stroke":"#d0143c","strokeWidth":0.5},
 "encoding":{
  "x":{"field":"d","type":"temporal",
   "axis":{"orient":"bottom","offset":-35,"values":[{"year":2019,"month":1,"date":1,"utc":true}],"ticks":true,"tickSize":35,"tickColor":"#8f9bb0","tickWidth":1,"labels":false,"domain":false,"grid":false,"title":null}},
  "y":{"field":"o","type":"quantitative","axis":null},
  "y2":{"field":"c"}}},
{"data":{"name":"last"},
 "mark":{"type":"point","shape":"M -1 0 L -0.82 -0.39 L 1 -0.39 L 1 0.39 L -0.82 0.39 Z","size":3136,"filled":true,"fill":"#fffaf2","stroke":"#000000","strokeWidth":1,"opacity":1,"xOffset":31},
 "encoding":{"x":{"datum":{"year":2019,"month":7,"date":11,"utc":true},"type":"temporal","axis":null},"y":{"field":"v","type":"quantitative","axis":null}}},
{"data":{"name":"last"},
 "mark":{"type":"text","align":"left","baseline":"middle","dx":8,"fontSize":13,"font":"Liberation Sans","color":"#000000"},
 "encoding":{"x":{"datum":{"year":2019,"month":7,"date":11,"utc":true},"type":"temporal","axis":null},"y":{"field":"v","type":"quantitative","axis":null},"text":{"field":"v","type":"quantitative","format":".3f"}}}
],
"resolve":{"axis":{"x":"independent","y":"independent"}}
}
